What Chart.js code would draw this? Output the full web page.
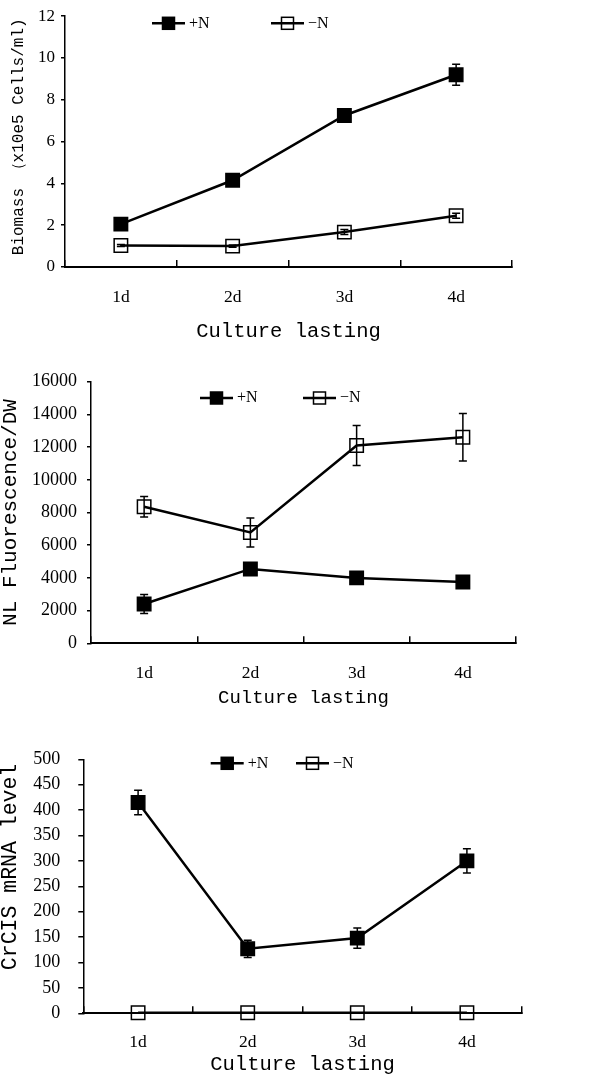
<!DOCTYPE html>
<html>
<head>
<meta charset="utf-8">
<script src="https://cdn.jsdelivr.net/npm/chart.js@4/dist/chart.umd.min.js"></script>
<style>
    body { margin: 0; background: #fff; }
    .caja { position: absolute; left: 0; width: 600px; }
</style>
</head>
<body>
<div class="caja" style="top:0px;height:350px;"><canvas id="grafico_biomasa" width="600" height="350"></canvas></div>
<div class="caja" style="top:350px;height:370px;"><canvas id="grafico_fluorescencia" width="600" height="370"></canvas></div>
<div class="caja" style="top:720px;height:365px;"><canvas id="grafico_crcis" width="600" height="365"></canvas></div>
<script>
// DATOS
var dias = ['1d', '2d', '3d', '4d'];
var etiquetas_series = ['+N', '\u2212N'];

var biomasa_mas_n = [2.05, 4.15, 7.25, 9.2];
var biomasa_mas_n_err = [0.1, 0.1, 0.1, 0.5];
var biomasa_menos_n = [1.03, 1.0, 1.67, 2.45];
var biomasa_menos_n_err = [0.05, 0.05, 0.12, 0.12];
var biomasa_ticks = { min: 0, max: 12, paso: 2 };

var fluor_mas_n = [2400, 4550, 4000, 3750];
var fluor_mas_n_err = [580, 100, 100, 100];
var fluor_menos_n = [8350, 6780, 12100, 12600];
var fluor_menos_n_err = [630, 890, 1220, 1450];
var fluor_ticks = { min: 0, max: 16000, paso: 2000 };

var crcis_mas_n = [415, 127, 148, 300];
var crcis_mas_n_err = [24, 17, 20, 24];
var crcis_menos_n = [1, 1, 1, 1];
var crcis_menos_n_err = [0, 0, 0, 0];
var crcis_ticks = { min: 0, max: 500, paso: 50 };

Chart.defaults.color = '#000';
Chart.defaults.animation = false;

// BARRAS DE ERROR
var barras_error = {
    id: 'barras_error',
    afterDatasetsDraw: function(chart) {
        var ctx = chart.ctx;
        var x = chart.scales.x;
        var y = chart.scales.y;
        chart.data.datasets.forEach(function(ds) {
            if (!ds.errores) return;
            ds.data.forEach(function(v, i) {
                var e = ds.errores[i];
                if (!e) return;
                var px = x.getPixelForValue(i);
                var y1 = y.getPixelForValue(v + e);
                var y2 = y.getPixelForValue(v - e);
                ctx.save();
                ctx.strokeStyle = '#000';
                ctx.lineWidth = 1.5;
                ctx.beginPath();
                ctx.moveTo(px, y1); ctx.lineTo(px, y2);
                ctx.moveTo(px - 4, y1); ctx.lineTo(px + 4, y1);
                ctx.moveTo(px - 4, y2); ctx.lineTo(px + 4, y2);
                ctx.stroke();
                ctx.restore();
            });
        });
    }
};

// LEYENDA DENTRO DEL AREA
function Crear_Leyenda(posX, posY) {
    return {
        id: 'leyenda_cuadros',
        afterDraw: function(chart) {
            var ctx = chart.ctx;
            chart.data.datasets.forEach(function(ds, i) {
                var x0 = posX[i];
                var lado = 12;
                ctx.save();
                ctx.strokeStyle = '#000';
                ctx.lineWidth = 2.5;
                ctx.beginPath();
                ctx.moveTo(x0, posY);
                ctx.lineTo(x0 + 33, posY);
                ctx.stroke();
                ctx.lineWidth = 1.5;
                if (ds.pointBackgroundColor !== 'transparent') {
                    ctx.fillStyle = ds.pointBackgroundColor;
                    ctx.fillRect(x0 + 16.5 - lado / 2, posY - lado / 2, lado, lado);
                }
                ctx.strokeRect(x0 + 16.5 - lado / 2, posY - lado / 2, lado, lado);
                ctx.fillStyle = '#000';
                ctx.font = '16px "Liberation Serif"';
                ctx.textBaseline = 'middle';
                ctx.fillText(ds.label, x0 + 37, posY);
                ctx.restore();
            });
        }
    };
}

function Serie(label, datos, errores, relleno) {
    return {
        label: label,
        data: datos,
        errores: errores,
        borderColor: '#000',
        borderWidth: 2.5,
        tension: 0,
        pointStyle: 'rect',
        pointRadius: 9.5,
        pointBorderWidth: 1.5,
        pointBorderColor: '#000',
        pointBackgroundColor: relleno,
        clip: false
    };
}

// GRAFICO GENERICO
function Cargar_Grafico(id, cfg) {
    var ctx = document.getElementById(id).getContext('2d');
    new Chart(ctx, {
        type: 'line',
        data: {
            labels: dias,
            datasets: [
                Serie(etiquetas_series[0], cfg.mas, cfg.mas_err, '#000'),
                Serie(etiquetas_series[1], cfg.menos, cfg.menos_err, 'transparent')
            ]
        },
        options: {
            responsive: false,
            events: [],
            layout: { padding: { top: cfg.arriba, right: cfg.derecha, left: 0, bottom: 0 } },
            plugins: { legend: { display: false }, tooltip: { enabled: false } },
            scales: {
                x: {
                    offset: true,
                    grid: { offset: true, drawOnChartArea: false, tickLength: -7, color: '#000', lineWidth: 1.5 },
                    border: { color: '#000', width: 2 },
                    ticks: { padding: cfg.pad_x, font: { family: 'Liberation Serif', size: 17.5 } },
                    title: {
                        display: true, text: 'Culture lasting',
                        font: { family: 'Liberation Mono', size: cfg.tam_titulo_x, lineHeight: 1 },
                        padding: { top: 0, bottom: cfg.pad_titulo_x }
                    },
                    afterFit: function(s) { s.height = cfg.alto_x; }
                },
                y: {
                    min: cfg.ticks.min,
                    max: cfg.ticks.max,
                    grid: { drawOnChartArea: false, tickLength: cfg.tick_y, color: '#000', lineWidth: 1.5 },
                    border: { color: '#000', width: 1.5 },
                    ticks: {
                        stepSize: cfg.ticks.paso,
                        padding: cfg.pad_y,
                        font: { family: 'Liberation Serif', size: cfg.tam_ticks_y },
                        callback: function(value) {
                            return String(value);
                        }
                    },
                    title: {
                        display: true, text: cfg.titulo_y,
                        font: { family: 'Liberation Mono', size: cfg.tam_titulo_y, lineHeight: 1 },
                        padding: { top: cfg.pad_titulo_y, bottom: 0 }
                    },
                    afterFit: function(s) { s.width = cfg.ancho_y; }
                }
            }
        },
        plugins: [barras_error, Crear_Leyenda(cfg.leyenda_x, cfg.leyenda_y)]
    });
}

// BIOMASA
Cargar_Grafico('grafico_biomasa', {
    mas: biomasa_mas_n, mas_err: biomasa_mas_n_err,
    menos: biomasa_menos_n, menos_err: biomasa_menos_n_err,
    ticks: biomasa_ticks,
    titulo_y: ' Biomass \uFF08x10e5 Cells/ml)',
    arriba: 15, derecha: 88, ancho_y: 65, alto_x: 83,
    pad_x: 26.5, tam_titulo_x: 20.5, pad_titulo_x: 8,
    tick_y: 4, pad_y: 6, tam_ticks_y: 17, tam_titulo_y: 16, pad_titulo_y: 10.5,
    leyenda_x: [152, 271], leyenda_y: 23.3
});

// FLUORESCENCIA NL
Cargar_Grafico('grafico_fluorescencia', {
    mas: fluor_mas_n, mas_err: fluor_mas_n_err,
    menos: fluor_menos_n, menos_err: fluor_menos_n_err,
    ticks: fluor_ticks,
    titulo_y: 'NL Fluorescence/DW',
    arriba: 31.7, derecha: 84, ancho_y: 91, alto_x: 76.7,
    pad_x: 26.5, tam_titulo_x: 19, pad_titulo_x: 12.5,
    tick_y: 4, pad_y: 10, tam_ticks_y: 18, tam_titulo_y: 21, pad_titulo_y: 0,
    leyenda_x: [200, 303], leyenda_y: 48
});

// NIVEL ARNm CrCIS
Cargar_Grafico('grafico_crcis', {
    mas: crcis_mas_n, mas_err: crcis_mas_n_err,
    menos: crcis_menos_n, menos_err: crcis_menos_n_err,
    ticks: crcis_ticks,
    titulo_y: '   CrCIS mRNA level',
    arriba: 39.3, derecha: 78.3, ancho_y: 83.3, alto_x: 71.7,
    pad_x: 25.2, tam_titulo_x: 20.5, pad_titulo_x: 9.75,
    tick_y: 5, pad_y: 18, tam_ticks_y: 18, tam_titulo_y: 21.5, pad_titulo_y: 0,
    leyenda_x: [210.7, 296], leyenda_y: 43.3
});
</script>
</body>
</html>
